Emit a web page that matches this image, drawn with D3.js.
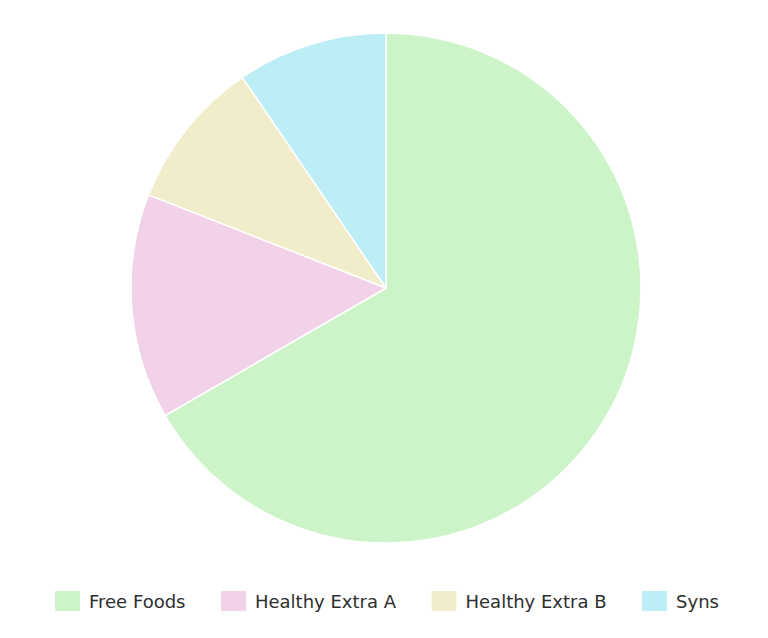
<!DOCTYPE html>
<html>
<head>
<meta charset="utf-8">
<script src="https://cdn.jsdelivr.net/npm/d3@7"></script>
<style>
  body { margin: 0; background: #fff; }
  #chart { width: 768px; height: 638px; }
  .legend-text { font-family: "DejaVu Sans", Verdana, sans-serif; font-size: 18px; fill: #2e2e2e; }
</style>
</head>
<body>
<div id="chart"></div>
<script>
// slice data
const categories = ["Free Foods", "Healthy Extra A", "Healthy Extra B", "Syns"];
const values = [14, 3, 2, 2];
const colors = ["#ccf4c8", "#f1d2e8", "#f1edca", "#bdedf5"];

const width = 768;
const height = 638;
const cx = 386;
const cy = 288;
const radius = 255;

const svg = d3
  .select("#chart")
  .append("svg")
  .attr("width", width)
  .attr("height", height);

const color = d3.scaleOrdinal().domain(categories).range(colors);

const pie = d3
  .pie()
  .sort(null)
  .value((d, i) => values[i]);

const arc = d3.arc().innerRadius(0).outerRadius(radius);

const g = svg.append("g").attr("transform", `translate(${cx},${cy})`);

g.selectAll("path")
  .data(pie(categories))
  .enter()
  .append("path")
  .attr("d", arc)
  .attr("fill", (d) => color(d.data))
  .attr("stroke", "#fff")
  .attr("stroke-width", 1.5)
  .attr("stroke-linejoin", "round");

// legend, laid out from measured text widths
const boxW = 25;
const boxH = 20;
const boxGap = 9;
const itemGap = 35.5;
const legendY = 591;
const legendX = 55;

const legend = svg.append("g");
const items = legend
  .selectAll("g.item")
  .data(categories)
  .enter()
  .append("g")
  .attr("class", "item");

items
  .append("rect")
  .attr("width", boxW)
  .attr("height", boxH)
  .attr("y", legendY)
  .attr("fill", (d) => color(d));

items
  .append("text")
  .attr("class", "legend-text")
  .attr("x", boxW + boxGap)
  .attr("y", legendY + 17)
  .text((d) => d);

let offsets = [];
let total = 0;
items.each(function (d, i) {
  const w = boxW + boxGap + d3.select(this).select("text").node().getComputedTextLength();
  offsets.push(total);
  total += w + itemGap;
});
items.attr("transform", (d, i) => `translate(${legendX + offsets[i]},0)`);
</script>
</body>
</html>
